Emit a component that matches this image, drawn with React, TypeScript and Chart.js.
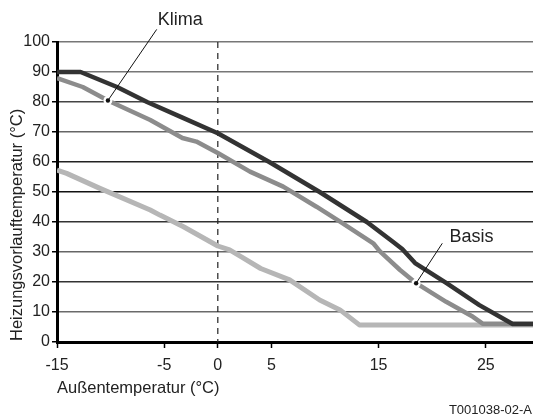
import React, { useEffect, useRef } from "react";
import { Chart, registerables } from "chart.js";

Chart.register(...registerables);

// ---- data ----
const xTicks = [-15, -5, 0, 5, 15, 25];
const xMin = -15;
const xMax = 29.4;
const yMin = 0;
const yMax = 100;

const darkX = [-15, -12.8, -9.4, -6.6, -3.3, 0, 4.8, 9.5, 13.9, 16.3, 17.2, 18.4, 21.3, 24.4, 27.5, 29.4];
const darkY = [90, 90, 85, 80, 74.8, 69.6, 60, 50, 40, 33.5, 31, 26.3, 19.7, 12.3, 6, 6];

const midX = [-15, -12.6, -10.25, -6.3, -3.3, -2, 0, 3, 6.1, 9.2, 11.4, 14.5, 15.1, 17, 18.5, 21.3, 23.8, 24.7, 29.4];
const midY = [88, 85, 80.5, 74, 68, 66.8, 63, 56.8, 51.8, 45.1, 40.1, 32.9, 30.3, 24, 19.6, 13.4, 8.4, 6.1, 6.1];

const lightX = [-15, -14.1, -11, -6.3, -5.4, -3.2, 0, 1.1, 2.2, 4, 6.7, 9.5, 11.4, 13.2, 29.4];
const lightY = [57.3, 56.2, 51.2, 44, 42.3, 38.4, 32, 30.7, 28.4, 24.5, 20.7, 14, 10.7, 5.7, 5.7];

// annotations: text position, pointer-line top, pointer dot (data units)
const klimaNote = { text: "Klima", tx: -5.6, ty: 107.3, lx: -5.7, ly: 104.2, dx: -10.25, dy: 80.5 };
const basisNote = { text: "Basis", tx: 21.6, ty: 35, lx: 20.94, ly: 32.9, dx: 18.5, dy: 19.6 };

const xTitle = "Außentemperatur (°C)";
const yTitle = "Heizungsvorlauftemperatur (°C)";
const footNote = "T001038-02-A";

const gridColors: Record<number, string> = {
  0: "#000",
  10: "#6a6a6a",
  20: "#333",
  30: "#666",
  40: "#333",
  50: "#111",
  60: "#222",
  70: "#666",
  80: "#444",
  90: "#777",
  100: "#777",
};

const FONT = '"Liberation Sans", Arial, sans-serif';

function pts(xs: number[], ys: number[]) {
  return xs.map((x, i) => ({ x, y: ys[i] }));
}

export default function App() {
  const ref = useRef<HTMLCanvasElement | null>(null);

  useEffect(() => {
    document.body.style.margin = "0";
    const canvas = ref.current!;
    const overlay = {
      id: "overlay",
      beforeDatasetsDraw(chart: any) {
        const { ctx, chartArea, scales } = chart;
        const x0 = scales.x.getPixelForValue(0);
        ctx.save();
        ctx.strokeStyle = "#222";
        ctx.lineWidth = 1.2;
        ctx.setLineDash([6, 5]);
        ctx.beginPath();
        ctx.moveTo(x0, chartArea.top);
        ctx.lineTo(x0, chartArea.bottom);
        ctx.stroke();
        ctx.restore();
      },
      afterDraw(chart: any) {
        const { ctx, scales, chartArea } = chart;
        const sx = scales.x;
        const sy = scales.y;
        ctx.save();
        for (const n of [klimaNote, basisNote]) {
          const dx = sx.getPixelForValue(n.dx);
          const dy = sy.getPixelForValue(n.dy);
          const lx = sx.getPixelForValue(n.lx);
          const ly = sy.getPixelForValue(n.ly);
          ctx.fillStyle = "#fff";
          ctx.beginPath();
          ctx.arc(dx, dy, 4.5, 0, Math.PI * 2);
          ctx.fill();
          ctx.strokeStyle = "#111";
          ctx.lineWidth = 1;
          ctx.beginPath();
          ctx.moveTo(dx, dy);
          ctx.lineTo(lx, ly);
          ctx.stroke();
          ctx.fillStyle = "#111";
          ctx.beginPath();
          ctx.arc(dx, dy, 2.2, 0, Math.PI * 2);
          ctx.fill();
          ctx.font = `18px ${FONT}`;
          ctx.textAlign = "left";
          ctx.textBaseline = "middle";
          ctx.fillStyle = "#222";
          ctx.fillText(n.text, sx.getPixelForValue(n.tx), sy.getPixelForValue(n.ty));
        }
        // axis titles
        ctx.fillStyle = "#222";
        ctx.font = `16.5px ${FONT}`;
        ctx.textAlign = "left";
        ctx.textBaseline = "middle";
        ctx.fillText(xTitle, chartArea.left, 388);
        ctx.save();
        ctx.translate(17, chartArea.bottom - 1);
        ctx.rotate(-Math.PI / 2);
        ctx.textAlign = "left";
        ctx.fillText(yTitle, 0, 0);
        ctx.restore();
        ctx.font = `13px ${FONT}`;
        ctx.textAlign = "right";
        ctx.fillText(footNote, 532, 410);
        ctx.restore();
      },
    };

    const lineCommon = {
      pointRadius: 0,
      tension: 0,
      borderJoinStyle: "round",
      borderCapStyle: "butt",
    };

    const chart = new Chart(canvas, {
      type: "line",
      data: {
        datasets: [
          { ...lineCommon, data: pts(darkX, darkY), borderColor: "#333", borderWidth: 4.5, order: 0 },
          { ...lineCommon, data: pts(midX, midY), borderColor: "#8c8c8c", borderWidth: 4.5, order: 1 },
          { ...lineCommon, data: pts(lightX, lightY), borderColor: "#b6b6b6", borderWidth: 5, order: 2 },
        ],
      },
      options: {
        animation: false,
        responsive: false,
        maintainAspectRatio: false,
        layout: { padding: { top: 42, right: 0, left: 0, bottom: 0 } },
        plugins: { legend: { display: false }, tooltip: { enabled: false } },
        scales: {
          x: {
            type: "linear",
            min: xMin,
            max: xMax,
            afterBuildTicks: (s: any) => {
              s.ticks = xTicks.map((v) => ({ value: v }));
            },
            afterFit: (s: any) => {
              s.height = 75;
            },
            grid: {
              drawOnChartArea: false,
              drawTicks: true,
              tickLength: 6,
              tickColor: "#000",
              tickWidth: 1.5,
            },
            border: { color: "#000", width: 3 },
            ticks: {
              font: { family: FONT, size: 16 },
              color: "#222",
              padding: 8,
              maxRotation: 0,
              autoSkip: false,
            },
          },
          y: {
            type: "linear",
            min: yMin,
            max: yMax,
            afterFit: (s: any) => {
              s.width = 57;
            },
            grid: {
              color: (c: any) => gridColors[c.tick?.value] ?? "#666",
              lineWidth: 1.5,
              tickLength: 5,
              tickColor: "#000",
            },
            border: { color: "#000", width: 3 },
            ticks: {
              stepSize: 10,
              font: { family: FONT, size: 16 },
              color: "#222",
              padding: 2,
            },
          },
        },
      },
      plugins: [overlay],
    } as any);
    return () => chart.destroy();
  }, []);

  return (
    <div style={{ position: "absolute", left: 0, top: 0, width: 533, height: 417 }}>
      <canvas ref={ref} width={533} height={417} style={{ width: 533, height: 417 }} />
    </div>
  );
}
